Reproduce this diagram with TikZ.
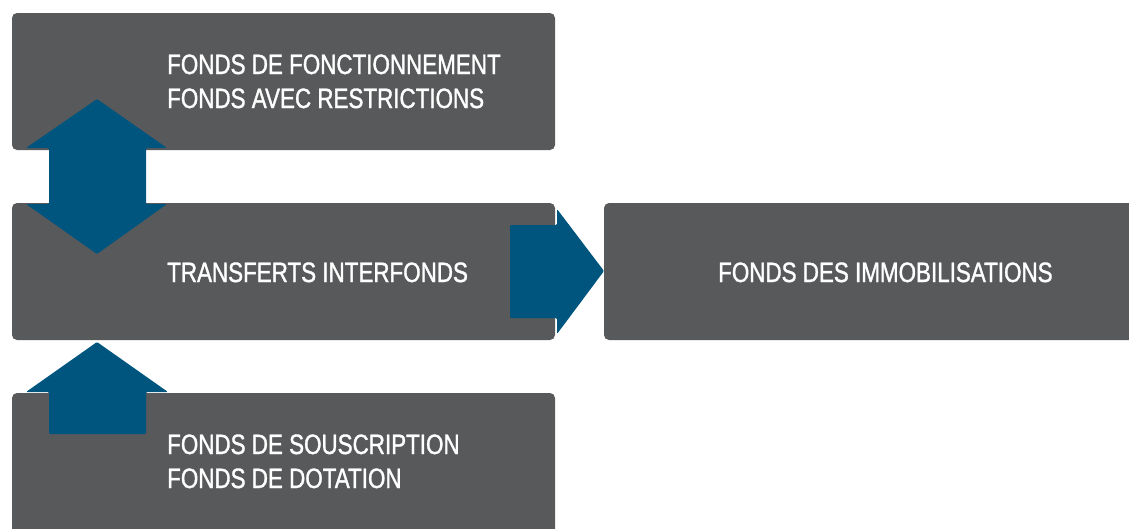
\documentclass[tikz,border=0pt]{standalone}
\usepackage{fontspec}
\setmainfont{Liberation Sans}[FakeStretch=0.80,FakeBold=1.2]
\definecolor{boxgray}{HTML}{58595B}
\definecolor{arrowblue}{HTML}{00557F}
\begin{document}
\begin{tikzpicture}[x=1pt,y=-1pt,
  fundbox/.style={fill=boxgray,rounded corners=5pt},
  blockarrow/.style={fill=arrowblue,rounded corners=1.2pt},
  label/.style={text=white,font=\fontsize{28}{34}\selectfont,anchor=base west,inner sep=0pt}]
\useasboundingbox (0,0) rectangle (1129,528);
% boxes
\fill[fundbox] (12,13) rectangle (555,150);
\fill[fundbox] (12,203) rectangle (555,340);
\fill[fundbox] (604,203) rectangle (1140,340);
\fill[fundbox] (12,393) rectangle (555,540);
\coordinate (b1) at (283,81);
\coordinate (b2) at (283,271);
\coordinate (b3) at (283,460);
\coordinate (b4) at (866,271);
% double arrow between box 1 and box 2
\fill[blockarrow] (97,99) -- (167,148) -- (146,148) -- (146,204) -- (167,204)
  -- (97,254) -- (26,204) -- (49,204) -- (49,148) -- (26,148) -- cycle;
% up arrow from box 3 to box 2
\fill[blockarrow] (97,342) -- (168,392) -- (146,392) -- (146,434) -- (49,434)
  -- (49,392) -- (26,392) -- cycle;
% right arrow from box 2 to box 4
\fill[blockarrow] (510,225) -- (557,225) -- (557,209) -- (604,271) -- (557,334)
  -- (557,318) -- (510,318) -- cycle;
% labels
\node[label] (t1a) at (167,74) {FONDS DE FONCTIONNEMENT};
\node[label] (t1b) at (167,108) {FONDS AVEC RESTRICTIONS};
\node[label] (t2) at (167,282) {TRANSFERTS INTERFONDS};
\node[label] (t4) at (718,282) {FONDS DES IMMOBILISATIONS};
\node[label] (t3a) at (167,454) {FONDS DE SOUSCRIPTION};
\node[label] (t3b) at (167,488) {FONDS DE DOTATION};
\end{tikzpicture}
\end{document}
